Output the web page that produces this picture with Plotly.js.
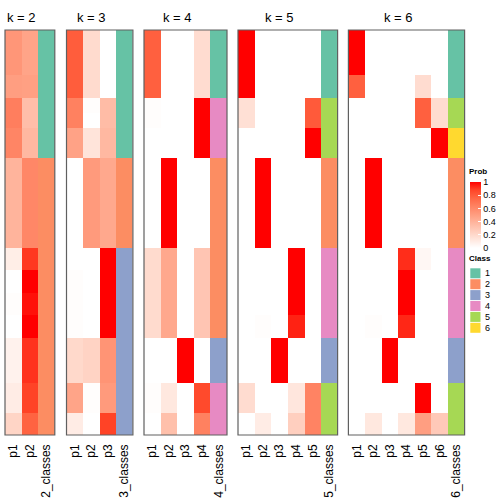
<!DOCTYPE html>
<html><head><meta charset="utf-8">
<script src="https://cdn.plot.ly/plotly-3.0.1.min.js"></script>
<style>html,body{margin:0;padding:0;background:#fff}#chart{width:504px;height:504px}</style>
</head><body><div id="chart"></div>
<script>
// ---------- data ----------
const classColors = ['#66C2A5','#FC8D62','#8DA0CB','#E78AC3','#A6D854','#FFD92F'];
const classLabels = ['1','2','3','4','5','6'];
const probTicks = [0, 0.2, 0.4, 0.6, 0.8, 1];
const probTickText = ['0','0.2','0.4','0.6','0.8','1'];
const kValues = [2, 3, 4, 5, 6];

// 54 samples (rows, top to bottom)
const k2_p1 = [.54,.54,.54,.54,.54,.54, .50,.50,.50, .65,.65,.65,.65, .62,.62,.62,.62,
  .39,.39,.39,.39,.39,.39,.39,.39,.39,.39,.39,.39, .09,.09,.09, 0,0,0, .01,.01,.01, 0,0,0,
  .07,.07,.07,.07,.07,.07, .10,.10,.10,.10, .22,.22,.22];
const k2_p2 = [.47,.47,.47,.47,.47,.47, .49,.49,.49, .34,.34,.34,.34, .37,.37,.37,.37,
  .61,.61,.61,.61,.61,.61,.61,.61,.61,.61,.61,.61, .90,.90,.90, 1,1,1, .97,.97,.97, 1,1,1,
  .91,.91,.91,.91,.91,.91, .88,.88,.88,.88, .77,.77,.77];
const k2_class = [1,1,1,1,1,1, 1,1,1, 1,1,1,1, 1,1,1,1,
  2,2,2,2,2,2,2,2,2,2,2,2, 2,2,2, 2,2,2, 2,2,2, 2,2,2, 2,2,2,2,2,2, 2,2,2,2, 2,2,2];

const k3_p1 = [.79,.79,.79,.79,.79,.79, .79,.79,.79, .64,.64,.64,.64, .48,.48,.48,.48,
  0,0,0,0,0,0,0,0,0,0,0,0, 0,0,0, .01,.01,.01, .01,.01,.01, .01,.01,.01,
  .20,.20,.20,.20,.20,.20, .47,.47,.47,.47, .10,.10,.10];
const k3_p2 = [.19,.19,.19,.19,.19,.19, .19,.19,.19, .01,.01,0,0, .14,.14,.14,.14,
  .52,.52,.52,.52,.52,.52,.52,.52,.52,.52,.52,.52, 0,0,0, 0,0,0, 0,0,0, 0,0,0,
  .23,.23,.23,.23,.23,.23, .01,.01,.01,.01, 0,0,0];
const k3_p3 = [0,0,0,0,0,0, 0,0,0, .35,.35,.35,.35, .37,.37,.37,.37,
  .45,.45,.45,.45,.45,.45,.45,.45,.45,.45,.45,.45, 1,1,1, 1,1,1, 1,1,1, 1,1,1,
  .55,.55,.55,.55,.55,.55, .52,.52,.52,.52, .88,.88,.88];
const k3_class = [1,1,1,1,1,1, 1,1,1, 1,1,1,1, 1,1,1,1,
  2,2,2,2,2,2,2,2,2,2,2,2, 3,3,3, 3,3,3, 3,3,3, 3,3,3, 3,3,3,3,3,3, 3,3,3,3, 3,3,3];

const k4_p1 = [.78,.78,.78,.78,.78,.78, .78,.78,.78, .01,.01,.01,.01, 0,0,0,0,
  0,0,0,0,0,0,0,0,0,0,0,0, .19,.19,.19, .19,.19,.19, .19,.19,.19, .19,.19,.19,
  0,0,0,0,0,0, .01,.01,.01,.01, 0,0,0];
const k4_p2 = [0,0,0,0,0,0, 0,0,0, 0,0,0,0, 0,0,0,0,
  1,1,1,1,1,1,1,1,1,1,1,1, .45,.45,.45, .45,.45,.45, .45,.45,.45, .45,.45,.45,
  0,0,0,0,0,0, .12,.12,.12,.12, .33,.33,.33];
const k4_p3 = [0,0,0,0,0,0, 0,0,0, 0,0,0,0, 0,0,0,0,
  0,0,0,0,0,0,0,0,0,0,0,0, 0,0,0, 0,0,0, 0,0,0, 0,0,0,
  1,1,1,1,1,1, 0,0,0,0, 0,0,0];
const k4_p4 = [.18,.18,.18,.18,.18,.18, .18,.18,.18, 1,1,1,1, 1,1,1,1,
  0,0,0,0,0,0,0,0,0,0,0,0, .30,.30,.30, .30,.30,.30, .30,.30,.30, .30,.30,.30,
  0,0,0,0,0,0, .86,.86,.86,.86, .64,.64,.64];
const k4_class = [1,1,1,1,1,1, 1,1,1, 4,4,4,4, 4,4,4,4,
  2,2,2,2,2,2,2,2,2,2,2,2, 2,2,2, 2,2,2, 2,2,2, 2,2,2, 3,3,3,3,3,3, 4,4,4,4, 4,4,4];

const k5_p1 = [1,1,1,1,1,1, 1,1,1, .16,.16,.16,.16, 0,0,0,0,
  0,0,0,0,0,0,0,0,0,0,0,0, 0,0,0, 0,0,0, 0,0,0, 0,0,0,
  0,0,0,0,0,0, .18,.18,.18,.18, 0,0,0];
const k5_p2 = [0,0,0,0,0,0, 0,0,0, 0,0,0,0, 0,0,0,0,
  1,1,1,1,1,1,1,1,1,1,1,1, 0,0,0, 0,0,0, 0,0,0, .01,.01,.01,
  0,0,0,0,0,0, 0,0,0,0, .10,.10,.10];
const k5_p3 = [0,0,0,0,0,0, 0,0,0, 0,0,0,0, 0,0,0,0,
  0,0,0,0,0,0,0,0,0,0,0,0, 0,0,0, 0,0,0, 0,0,0, 0,0,0,
  1,1,1,1,1,1, 0,0,0,0, 0,0,0];
const k5_p4 = [0,0,0,0,0,0, 0,0,0, 0,0,0,0, 0,0,0,0,
  0,0,0,0,0,0,0,0,0,0,0,0, 1,1,1, 1,1,1, 1,1,1, .94,.94,.94,
  0,0,0,0,0,0, .13,.13,.13,.13, .25,.25,.25];
const k5_p5 = [0,0,0,0,0,0, 0,0,0, .80,.80,.80,.80, 1,1,1,1,
  0,0,0,0,0,0,0,0,0,0,0,0, 0,0,0, 0,0,0, 0,0,0, 0,0,0,
  0,0,0,0,0,0, .63,.63,.63,.63, .63,.63,.63];
const k5_class = [1,1,1,1,1,1, 1,1,1, 5,5,5,5, 5,5,5,5,
  2,2,2,2,2,2,2,2,2,2,2,2, 4,4,4, 4,4,4, 4,4,4, 4,4,4, 3,3,3,3,3,3, 5,5,5,5, 5,5,5];

const k6_p1 = [1,1,1,1,1,1, .78,.78,.78, 0,0,0,0, 0,0,0,0,
  0,0,0,0,0,0,0,0,0,0,0,0, 0,0,0, 0,0,0, 0,0,0, 0,0,0,
  0,0,0,0,0,0, 0,0,0,0, 0,0,0];
const k6_p2 = [0,0,0,0,0,0, 0,0,0, 0,0,0,0, 0,0,0,0,
  1,1,1,1,1,1,1,1,1,1,1,1, 0,0,0, 0,0,0, 0,0,0, .01,.01,.01,
  0,0,0,0,0,0, 0,0,0,0, .12,.12,.12];
const k6_p3 = [0,0,0,0,0,0, 0,0,0, 0,0,0,0, 0,0,0,0,
  0,0,0,0,0,0,0,0,0,0,0,0, 0,0,0, 0,0,0, 0,0,0, 0,0,0,
  1,1,1,1,1,1, 0,0,0,0, 0,0,0];
const k6_p4 = [0,0,0,0,0,0, 0,0,0, 0,0,0,0, 0,0,0,0,
  0,0,0,0,0,0,0,0,0,0,0,0, .92,.92,.92, 1,1,1, 1,1,1, .93,.93,.93,
  0,0,0,0,0,0, 0,0,0,0, .12,.12,.12];
const k6_p5 = [0,0,0,0,0,0, .18,.18,.18, .78,.78,.78,.78, 0,0,0,0,
  0,0,0,0,0,0,0,0,0,0,0,0, .04,.04,.04, 0,0,0, 0,0,0, 0,0,0,
  0,0,0,0,0,0, 1,1,1,1, .50,.50,.50];
const k6_p6 = [0,0,0,0,0,0, 0,0,0, .18,.18,.18,.18, 1,1,1,1,
  0,0,0,0,0,0,0,0,0,0,0,0, 0,0,0, 0,0,0, 0,0,0, 0,0,0,
  0,0,0,0,0,0, 0,0,0,0, .28,.28,.28];
const k6_class = [1,1,1,1,1,1, 1,1,1, 5,5,5,5, 6,6,6,6,
  2,2,2,2,2,2,2,2,2,2,2,2, 4,4,4, 4,4,4, 4,4,4, 4,4,4, 3,3,3,3,3,3, 5,5,5,5, 5,5,5];

const panels = [
  {k: 2, probs: [k2_p1, k2_p2], cls: k2_class},
  {k: 3, probs: [k3_p1, k3_p2, k3_p3], cls: k3_class},
  {k: 4, probs: [k4_p1, k4_p2, k4_p3, k4_p4], cls: k4_class},
  {k: 5, probs: [k5_p1, k5_p2, k5_p3, k5_p4, k5_p5], cls: k5_class},
  {k: 6, probs: [k6_p1, k6_p2, k6_p3, k6_p4, k6_p5, k6_p6], cls: k6_class}
];

// ---------- style / layout ----------
const W = 504, H = 504;
const FONT = 'Liberation Sans, Arial, Helvetica, sans-serif';
// white -> red interpolated in LAB space (sampled)
const probScale = [[0,'#FFFFFF'],[0.125,'#FFE7DE'],[0.25,'#FFCFBF'],[0.375,'#FFB7A0'],
  [0.5,'#FF9E81'],[0.625,'#FF8464'],[0.75,'#FF6846'],[0.875,'#FF4628'],[1,'#FF0000']];
const n = classColors.length;
const classScale = [];
classColors.forEach((c, i) => {
  const a = i === 0 ? 0 : (i - 0.5) / (n - 1);
  const b = i === n - 1 ? 1 : (i + 0.5) / (n - 1);
  classScale.push([a, c]); classScale.push([b, c]);
});

const panelLeft = [5, 66.5, 144, 238, 348.4];
const colW = 16.6;
const topPx = 30, botPx = 435;

const traces = [];
const layout = {
  width: W, height: H,
  margin: {l: 0, r: 0, t: 0, b: 0},
  paper_bgcolor: '#fff', plot_bgcolor: '#fff',
  font: {family: FONT, color: '#000'},
  showlegend: false,
  yaxis: {domain: [1 - botPx / H, 1 - topPx / H], range: [53.5, -0.5], showgrid: false,
    zeroline: false, showticklabels: false, ticks: '', showline: false, fixedrange: true},
  shapes: [], annotations: []
};

panels.forEach((p, i) => {
  const xa = i === 0 ? 'x' : 'x' + (i + 1);
  const axKey = i === 0 ? 'xaxis' : 'xaxis' + (i + 1);
  const probNames = p.probs.map((_, j) => 'p' + (j + 1));
  const clsName = p.k + '_classes';
  const allNames = probNames.concat([clsName]);
  const rows = p.cls.map((_, r) => r);
  const left = panelLeft[i], right = left + colW * (p.k + 1);
  layout[axKey] = {
    domain: [left / W, right / W], anchor: 'y', type: 'category',
    categoryorder: 'array', categoryarray: allNames,
    range: [-0.5, p.k + 0.5], showgrid: false, zeroline: false, showline: false,
    ticks: '', tickangle: -90, ticklabelstandoff: 6, automargin: false,
    tickfont: {size: 12, family: FONT, color: '#000'}, fixedrange: true
  };
  traces.push({
    type: 'heatmap', xaxis: xa, yaxis: 'y',
    x: allNames, y: rows,
    z: rows.map(r => p.probs.map(col => col[r]).concat([null])),
    zmin: 0, zmax: 1, colorscale: probScale, hoverinfo: 'skip',
    showscale: i === 0,
    colorbar: {
      x: 470 / W, xanchor: 'left', y: 1 - 182 / H, yanchor: 'top',
      len: 66, lenmode: 'pixels', thickness: 11, thicknessmode: 'pixels',
      outlinewidth: 0, xpad: 0, ypad: 0,
      tickmode: 'array', tickvals: probTicks, ticktext: probTickText,
      ticks: 'inside', ticklen: 3, tickcolor: '#fff',
      tickfont: {size: 9, family: FONT, color: '#000'}
    }
  });
  traces.push({
    type: 'heatmap', xaxis: xa, yaxis: 'y',
    x: allNames, y: rows, z: p.cls.map(c => probNames.map(() => null).concat([c])),
    zmin: 1, zmax: n, colorscale: classScale, showscale: false, hoverinfo: 'skip'
  });
  layout.shapes.push({type: 'rect', xref: xa + ' domain', yref: 'y domain',
    x0: 0, x1: 1, y0: 0, y1: 1, line: {color: '#606060', width: 1.2}, fillcolor: 'rgba(0,0,0,0)'});
  layout.annotations.push({text: 'k = ' + p.k, xref: xa, x: (p.k - 1) / 2,
    yref: 'paper', y: 1 - 18 / H, yanchor: 'middle', xanchor: 'center', showarrow: false,
    font: {size: 13, family: FONT, color: '#000'}});
});

// legends
layout.annotations.push({text: '<b>Prob</b>', xref: 'paper', yref: 'paper',
  x: 468 / W, y: 1 - 171 / H, xanchor: 'left', yanchor: 'middle', showarrow: false,
  borderpad: 0, font: {size: 8, family: FONT, color: '#000'}});
layout.annotations.push({text: '<b>Class</b>', xref: 'paper', yref: 'paper',
  x: 468 / W, y: 1 - 258 / H, xanchor: 'left', yanchor: 'middle', showarrow: false,
  borderpad: 0, font: {size: 8, family: FONT, color: '#000'}});
classColors.forEach((c, i) => {
  const cy = 273.3 + 10.9 * i;
  layout.shapes.push({type: 'rect', xref: 'paper', yref: 'paper',
    x0: 470.3 / W, x1: 480.5 / W, y0: 1 - (cy + 5) / H, y1: 1 - (cy - 5) / H,
    line: {width: 0}, fillcolor: c});
  layout.annotations.push({text: classLabels[i], xref: 'paper', yref: 'paper',
    x: 484 / W, y: 1 - cy / H, xanchor: 'left', yanchor: 'middle', showarrow: false,
    borderpad: 0, font: {size: 9, family: FONT, color: '#000'}});
});

Plotly.newPlot('chart', traces, layout, {staticPlot: true, displayModeBar: false});
</script>
</body></html>
